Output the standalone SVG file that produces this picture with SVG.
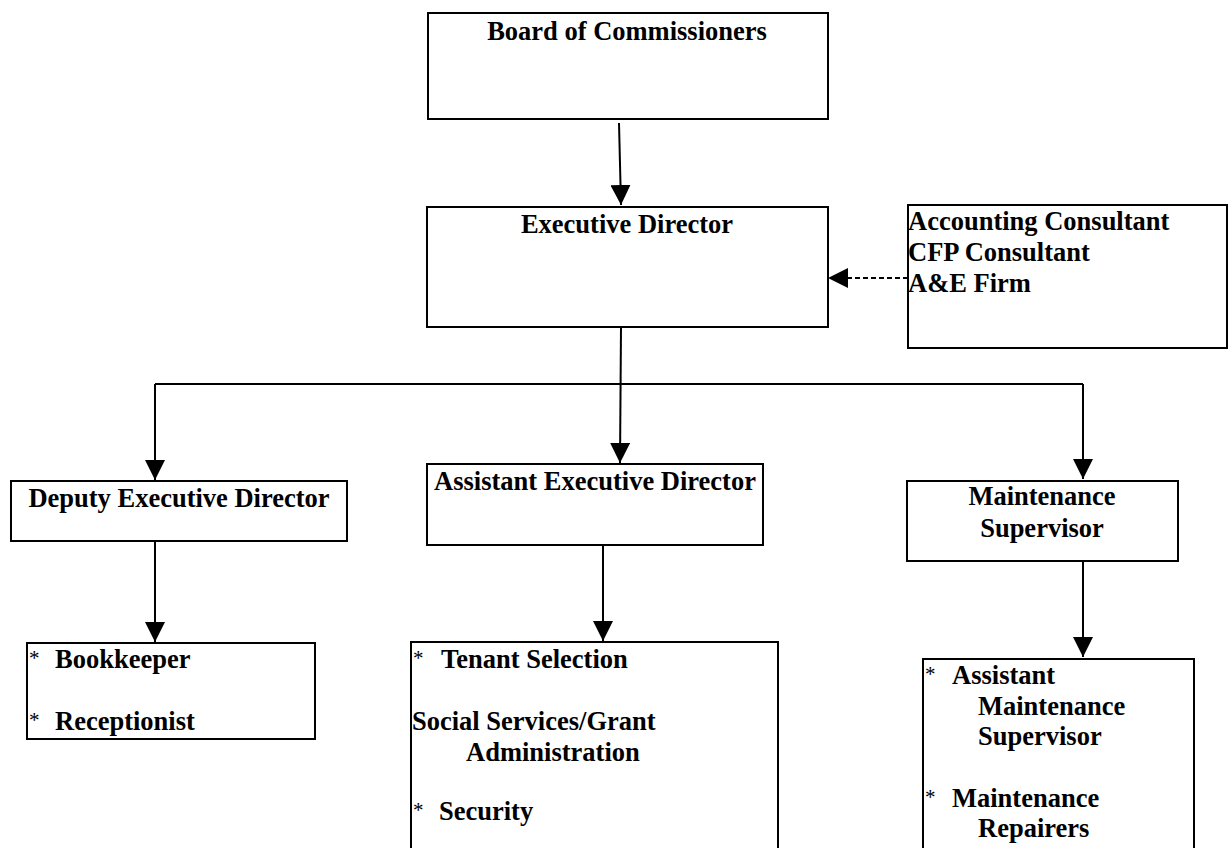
<svg xmlns="http://www.w3.org/2000/svg" width="1232" height="848" viewBox="0 0 1232 848">
  <style>
    .box { fill: #ffffff; stroke: #000000; stroke-width: 2; }
    .t { font-family: "Liberation Serif", "Times New Roman", serif; font-weight: bold; font-size: 26.5px; fill: #000000; }
    .c { text-anchor: middle; }
    .ast { font-family: "Liberation Serif", "Times New Roman", serif; font-weight: normal; font-size: 21px; fill: #000000; }
    .con { fill: none; stroke: #000000; stroke-width: 2; }
    .dash { stroke-dasharray: 5 3; }
  </style>
  <defs>
    <marker id="arr" viewBox="0 0 20 20" refX="20" refY="10" markerWidth="20" markerHeight="20" markerUnits="userSpaceOnUse" orient="auto">
      <path d="M0,0 L20,10 L0,20 z" fill="#000000"/>
    </marker>
  </defs>
  <rect width="1232" height="848" fill="#ffffff"/>

  <g id="connectors">
    <path class="con" d="M619,123 L621,205" marker-end="url(#arr)"/>
    <path class="con" d="M621,327 L620,463" marker-end="url(#arr)"/>
    <path class="con" d="M155,384 H1083"/>
    <path class="con" d="M155,384 V480" marker-end="url(#arr)"/>
    <path class="con" d="M1083,384 V479" marker-end="url(#arr)"/>
    <path class="con dash" d="M908,278 H828" marker-end="url(#arr)"/>
    <path class="con" d="M155,541 V642" marker-end="url(#arr)"/>
    <path class="con" d="M603,545 V641" marker-end="url(#arr)"/>
    <path class="con" d="M1083,561 V657" marker-end="url(#arr)"/>
  </g>

  <g id="board">
    <rect class="box" x="428" y="13" width="400" height="106"/>
    <text class="t c" x="627" y="40">Board of Commissioners</text>
  </g>

  <g id="executive-director">
    <rect class="box" x="427" y="207" width="401" height="120"/>
    <text class="t c" x="627" y="233">Executive Director</text>
  </g>

  <g id="consultants">
    <rect class="box" x="908" y="205" width="319" height="143"/>
    <text class="t" x="908" y="230">Accounting Consultant</text>
    <text class="t" x="908" y="261">CFP Consultant</text>
    <text class="t" x="908" y="292">A&amp;E Firm</text>
  </g>

  <g id="deputy-executive-director">
    <rect class="box" x="11" y="481" width="336" height="60"/>
    <text class="t c" x="179" y="507">Deputy Executive Director</text>
  </g>

  <g id="assistant-executive-director">
    <rect class="box" x="427" y="464" width="336" height="81"/>
    <text class="t c" x="595" y="490">Assistant Executive Director</text>
  </g>

  <g id="maintenance-supervisor">
    <rect class="box" x="907" y="481" width="271" height="80"/>
    <text class="t c" x="1042" y="505">Maintenance</text>
    <text class="t c" x="1042" y="537">Supervisor</text>
  </g>

  <g id="deputy-staff">
    <rect class="box" x="27" y="643" width="288" height="96"/>
    <text class="ast" x="29" y="665">*</text>
    <text class="t" x="55" y="668">Bookkeeper</text>
    <text class="ast" x="29" y="727">*</text>
    <text class="t" x="55" y="730">Receptionist</text>
  </g>

  <g id="assistant-staff">
    <rect class="box" x="411" y="642" width="367" height="230"/>
    <text class="ast" x="413" y="665">*</text>
    <text class="t" x="441" y="668">Tenant Selection</text>
    <text class="t" x="412" y="730">Social Services/Grant</text>
    <text class="t" x="466" y="761">Administration</text>
    <text class="ast" x="413" y="817">*</text>
    <text class="t" x="439" y="820">Security</text>
  </g>

  <g id="maintenance-staff">
    <rect class="box" x="923" y="659" width="271" height="210"/>
    <text class="ast" x="925" y="681">*</text>
    <text class="t" x="952" y="684">Assistant</text>
    <text class="t" x="978" y="715">Maintenance</text>
    <text class="t" x="978" y="745">Supervisor</text>
    <text class="ast" x="925" y="804">*</text>
    <text class="t" x="952" y="807">Maintenance</text>
    <text class="t" x="978" y="837">Repairers</text>
  </g>
</svg>
